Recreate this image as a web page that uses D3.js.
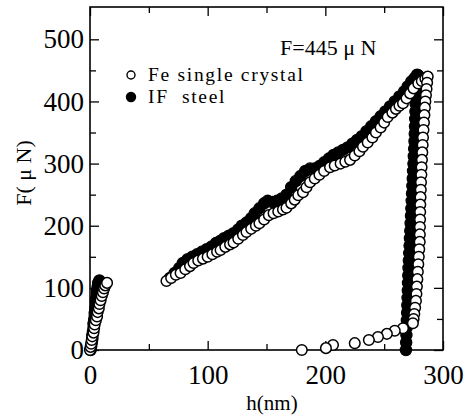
<!DOCTYPE html>
<html>
<head>
<meta charset="utf-8">
<script src="https://cdn.jsdelivr.net/npm/d3@7"></script>
<style>
  body { margin: 0; background: #fff; }
</style>
</head>
<body>
<svg id="chart" width="469" height="419"></svg>
<script>
// Fe single crystal (open circles), [h nm, F uN]
const feRise = [[0,0],[0.5,5],[1,10],[1.5,16],[2,22],[3,28],[3.5,35],[4,41],[5,48],[6,54],[6.5,61],[7.5,67],[8,74],[9,80],[10,87],[11,93],[12,99],[13,104],[14.5,108]];
const feLoad = [[65,111],[69,116],[73,121],[77,124],[81,130],[85,135],[88,140],[92,144],[96,147],[100,150],[104,154],[108,158],[111,161],[115,166],[119,170],[122,173],[126,179],[130,185],[133,190],[137,195],[141,200],[144,204],[148,210],[152,217],[156,220],[160,223],[164,226],[167,229],[171,236],[174,242],[177,249],[181,254],[184,262],[187,270],[191,276],[195,282],[199,288],[204,294],[208,297],[213,300],[217,303],[221,306],[225,313],[229,320],[232,327],[236,334],[240,342],[243,350],[247,358],[250,366],[253,375],[257,382],[260,388],[263,393],[266,397],[269,405],[272,413],[275,421],[279,429],[282,433],[285,437],[287,440]];
const feUnload = [[286.5,430],[286,420],[285.5,410],[285,400],[284.6,390],[284.2,378],[283.8,366],[283.4,354],[283,342],[282.7,330],[282.4,318],[282.1,306],[281.8,294],[281.6,282],[281.3,270],[281.1,258],[280.9,246],[280.7,234],[280.6,222],[280.5,210],[280.4,198],[280.3,186],[280.2,174],[279.8,162],[279.4,150],[279,138],[278.6,126],[278.2,114],[277.8,102],[277.4,90],[277,79],[276.3,68],[275.6,58],[275,50],[274.4,43],[266,35],[259,31],[252.3,26],[244.7,21],[237,16],[225,11],[206.5,8],[200.5,3],[180,0]];

// IF steel (filled circles)
const ifRise = [[0.5,0],[1,6],[1.5,12],[2,18],[2,24],[2.5,30],[3,36],[3,42],[3.5,48],[4,54],[4,60],[4.5,66],[5,72],[5,78],[5.5,84],[6,90],[6,96],[6.5,102],[7,108],[8,112]];
const ifLoad = [[68,116],[72,124],[76,132],[79,140],[83,146],[87,150],[91,154],[95,158],[99,162],[103,166],[107,172],[111,176],[114,180],[118,184],[122,188],[126,194],[129,200],[133,205],[137,212],[140,220],[144,228],[148,236],[151,240],[155,238],[159,240],[163,244],[167,250],[171,262],[175,272],[179,280],[183,288],[187,292],[191,292],[195,296],[199,302],[203,308],[207,314],[211,318],[215,322],[219,326],[223,332],[227,338],[231,344],[235,352],[239,360],[243,368],[247,376],[251,384],[255,392],[259,400],[263,408],[267,416],[270,424],[273,432],[276,438],[279,442]];
const ifUnload = [[278,443],[277.7,432],[277.4,420],[277.1,408],[276.8,396],[276.6,384],[276.4,372],[276.2,360],[276,348],[275.8,336],[275.5,324],[275.2,312],[274.9,300],[274.6,288],[274.3,276],[274,264],[273.7,252],[273.4,240],[273.1,228],[272.8,216],[272.5,204],[272.2,192],[271.9,180],[271.6,168],[271.3,156],[271,144],[270.7,132],[270.5,120],[270.3,108],[270.1,96],[269.9,84],[269.7,72],[269.5,60],[269.3,48],[269.1,36],[268.9,24],[268.7,12],[268.5,0]];

const xTicks = [0, 100, 200, 300];
const xMinor = [50, 150, 250];
const yTicks = [0, 100, 200, 300, 400, 500];
const yMinor = [50, 150, 250, 350, 450];
const seriesNames = ["Fe single crystal", "IF  steel"];

const serif = "'Liberation Serif', 'Times New Roman', 'DejaVu Serif', serif";
const svg = d3.select("#chart").style("font-family", serif);
const pLeft = 90, pRight = 443, pTop = 7, pBottom = 350;

const x = d3.scaleLinear().domain([0, 300]).range([pLeft, pRight]);
const y = d3.scaleLinear().domain([0, 552]).range([pBottom, pTop]);

// axes, ticks pointing inward on all four sides
function styleAxis(g) {
  g.attr("font-family", null).attr("font-size", null);
  g.select(".domain").remove();
  g.selectAll(".tick line").attr("stroke", "#000").attr("stroke-width", 1.3);
  g.selectAll("text").style("font-family", serif).style("font-size", "27px").attr("fill", "#000");
}

svg.append("g").attr("transform", `translate(0,${pBottom})`)
  .call(d3.axisBottom(x).tickValues(xTicks).tickSize(-9).tickPadding(15).tickFormat(d3.format("d")))
  .call(styleAxis);
svg.append("g").attr("transform", `translate(0,${pBottom})`)
  .call(d3.axisBottom(x).tickValues(xMinor).tickSize(-6).tickFormat(""))
  .call(styleAxis);
svg.append("g").attr("transform", `translate(0,${pTop})`)
  .call(d3.axisTop(x).tickValues(xTicks).tickSize(-9).tickFormat(""))
  .call(styleAxis);
svg.append("g").attr("transform", `translate(0,${pTop})`)
  .call(d3.axisTop(x).tickValues(xMinor).tickSize(-6).tickFormat(""))
  .call(styleAxis);

svg.append("g").attr("transform", `translate(${pLeft},0)`)
  .call(d3.axisLeft(y).tickValues(yTicks).tickSize(-9).tickPadding(6).tickFormat(d3.format("d")))
  .call(styleAxis);
svg.append("g").attr("transform", `translate(${pLeft},0)`)
  .call(d3.axisLeft(y).tickValues(yMinor).tickSize(-6).tickFormat(""))
  .call(styleAxis);
svg.append("g").attr("transform", `translate(${pRight},0)`)
  .call(d3.axisRight(y).tickValues(yTicks).tickSize(-9).tickFormat(""))
  .call(styleAxis);
svg.append("g").attr("transform", `translate(${pRight},0)`)
  .call(d3.axisRight(y).tickValues(yMinor).tickSize(-6).tickFormat(""))
  .call(styleAxis);

// frame
svg.append("rect")
  .attr("x", pLeft).attr("y", pTop)
  .attr("width", pRight - pLeft).attr("height", pBottom - pTop)
  .attr("fill", "none").attr("stroke", "#000").attr("stroke-width", 1.6);

// points: filled first, open drawn over them
const ifPts = ifRise.concat(ifLoad, ifUnload);
const fePts = feRise.concat(feLoad, feUnload);

svg.append("g").selectAll("circle")
  .data(ifPts).enter().append("circle")
    .attr("cx", d => x(d[0]))
    .attr("cy", d => y(d[1]))
    .attr("r", 5.6)
    .attr("fill", "#000")
    .attr("stroke", "#000")
    .attr("stroke-width", 1.3);

svg.append("g").selectAll("circle")
  .data(fePts).enter().append("circle")
    .attr("cx", d => x(d[0]))
    .attr("cy", d => y(d[1]))
    .attr("r", 5.3)
    .attr("fill", "#fff")
    .attr("stroke", "#000")
    .attr("stroke-width", 1.5);

// legend
const legend = svg.append("g");
legend.selectAll("circle")
  .data(seriesNames).enter().append("circle")
    .attr("cx", 131)
    .attr("cy", (d, i) => 75 + i * 22)
    .attr("r", (d, i) => i ? 4.5 : 4)
    .attr("fill", (d, i) => i ? "#000" : "#fff")
    .attr("stroke", "#000")
    .attr("stroke-width", 1.4);
legend.selectAll("text")
  .data(seriesNames).enter().append("text")
    .attr("x", 148)
    .attr("y", (d, i) => 81 + i * 22)
    .style("font-size", "19.5px")
    .style("letter-spacing", "1.7px")
    .style("white-space", "pre")
    .text(d => d);

svg.append("text")
  .attr("x", 280).attr("y", 55)
  .style("font-size", "22px")
  .text("F=445 μ N");

// axis titles
svg.append("text")
  .attr("x", 272).attr("y", 410)
  .attr("text-anchor", "middle")
  .style("font-size", "21px")
  .text("h(nm)");

svg.append("text")
  .attr("transform", "translate(31,173) rotate(-90)")
  .attr("text-anchor", "middle")
  .style("font-size", "22px")
  .text("F( μ N)");
</script>
</body>
</html>
